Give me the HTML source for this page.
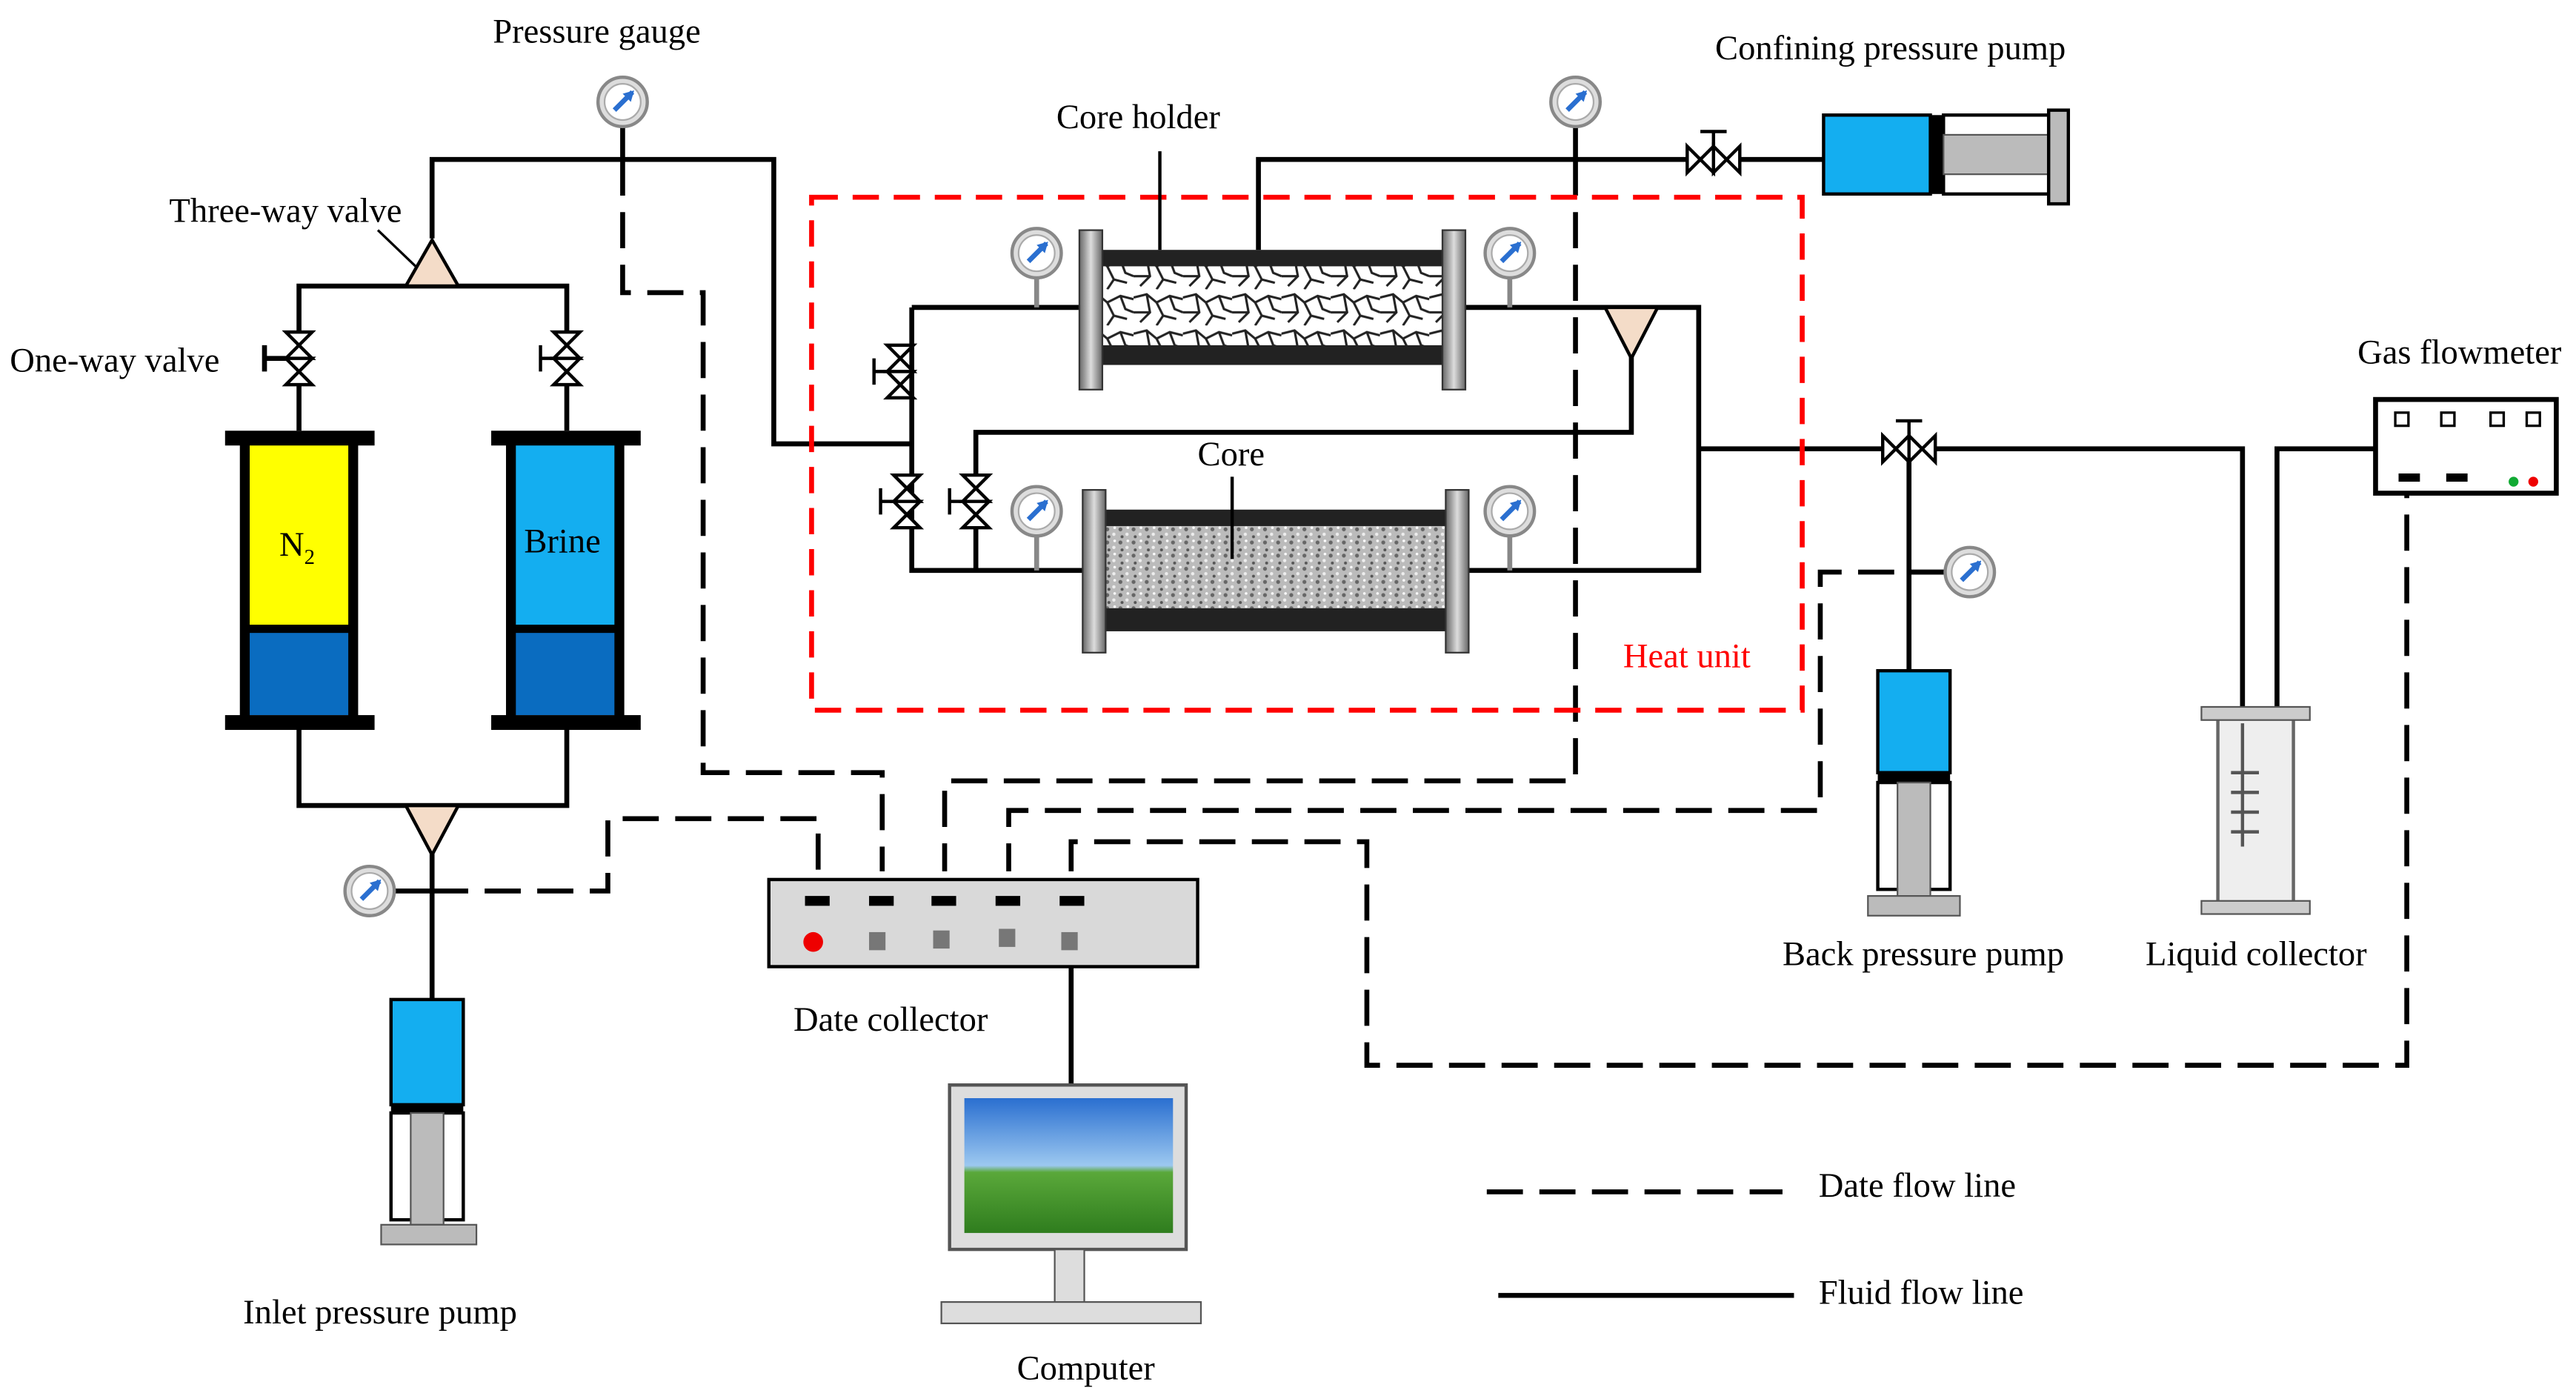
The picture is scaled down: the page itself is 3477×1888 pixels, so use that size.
<!DOCTYPE html>
<html><head><meta charset="utf-8"><style>
html,body{margin:0;padding:0;background:#fff}
svg{display:block}
text{font-family:"Liberation Serif",serif;font-size:21px;fill:#000}
</style></head><body>
<svg width="3477" height="1888" viewBox="0 0 1568 851" preserveAspectRatio="none" xmlns="http://www.w3.org/2000/svg">
<defs>
<pattern id="frac" width="30" height="22" patternUnits="userSpaceOnUse">
<rect width="30" height="22" fill="#fff"/>
<path d="M0 5 L8 3 L14 8 L22 4 L30 6 M8 3 L10 14 L4 20 M14 8 L18 16 L26 18 M22 4 L25 12 L30 14 M0 14 L10 14 M18 16 L14 22" stroke="#222" stroke-width="1.4" fill="none"/>
</pattern>
<pattern id="grain" width="8" height="8" patternUnits="userSpaceOnUse">
<rect width="8" height="8" fill="#bbb"/>
<circle cx="2" cy="2" r="1.2" fill="#666"/><circle cx="6" cy="5" r="1" fill="#eee"/><circle cx="3" cy="6.5" r="0.9" fill="#555"/><circle cx="6.5" cy="1" r="0.8" fill="#fff"/>
</pattern>
<linearGradient id="sky" x1="0" y1="0" x2="0" y2="1"><stop offset="0" stop-color="#2a6fd0"/><stop offset="0.5" stop-color="#9cc8f0"/><stop offset="0.55" stop-color="#5aa83a"/><stop offset="1" stop-color="#2f7d1e"/></linearGradient>
<linearGradient id="flange" x1="0" y1="0" x2="1" y2="0"><stop offset="0" stop-color="#666"/><stop offset="0.5" stop-color="#ddd"/><stop offset="1" stop-color="#666"/></linearGradient>
<g id="gauge"><circle r="15" fill="#ddd" stroke="#888" stroke-width="2"/><circle r="11" fill="#fff" stroke="#aaa"/><path d="M-5 5 L6 -6" stroke="#2a6fd0" stroke-width="3"/><path d="M7 -7 L0 -5 L5 0Z" fill="#2a6fd0"/></g>
<g id="vvalve"><path d="M-8 -16 L8 -16 L-8 0 L8 0Z M-8 16 L8 16 L-8 0 L8 0Z" fill="#fff" stroke="#000" stroke-width="2"/></g>
<g id="hvalve"><path d="M-16 -8 L-16 8 L0 -8 L0 8Z M16 -8 L16 8 L0 -8 L0 8Z" fill="#fff" stroke="#000" stroke-width="2"/></g>
</defs>

<g stroke="#000" stroke-width="3" fill="none">
<path d="M263 145 V97 H471 V270 H555"/>
<path d="M182 218 V174 H345 V218"/>
<path d="M182 218 V262 M345 218 V262"/>
<path d="M182 443 V490 H345 V443"/>
<path d="M263 505 V608"/>
<path d="M555 187 H657 M555 187 V347 H659"/>
<path d="M892 187 H1034 V347 H894"/>
<path d="M993 205 V263 H594 V347"/>
<path d="M1034 273 H1365 V430"/>
<path d="M1162 273 V408"/>
<path d="M766 152 V97 H1110"/>
<path d="M1386 430 V273 H1446"/>
<path d="M652 588 V660"/>
<path d="M379 77 V97 M959 77 V97"/>
<path d="M161 210 V226 M161 218 H174"/>
<path d="M240 542 H263"/>
<path d="M1162 348 H1185"/>
</g>
<g stroke="#000" stroke-width="3" fill="none" stroke-dasharray="22,10">
<path d="M379 97 V178 H428 V470 H537 V530"/>
<path d="M959 97 V475 H575 V530"/>
<path d="M1185 348 H1108 V493 H614 V530"/>
<path d="M263 542 H370 V498 H498 V530"/>
<path d="M652 530 V512 H832 V648 H1465 V300"/>
<path d="M905 725 H1085"/>
</g>
<path d="M912 788 H1092" stroke="#000" stroke-width="3"/>

<rect x="494" y="120" width="603" height="312" fill="none" stroke="#f00" stroke-width="3" stroke-dasharray="16,9"/>
<text x="988" y="406" style="fill:#f00">Heat unit</text>

<g fill="#f4dcc8" stroke="#000" stroke-width="2">
<path d="M247 174 L279 174 L263 146Z"/>
<path d="M247 490 L279 490 L263 520Z"/>
<path d="M977 187 L1009 187 L993 218Z"/>
</g>

<use href="#vvalve" x="182" y="218"/>
<use href="#vvalve" x="345" y="218"/>
<use href="#vvalve" x="548" y="226"/>
<use href="#vvalve" x="552" y="305"/>
<use href="#vvalve" x="594" y="305"/>
<use href="#hvalve" x="1043" y="97"/>
<use href="#hvalve" x="1162" y="273"/>
<path d="M532 218 V234 M532 226 H540 M536 297 V313 M536 305 H544 M578 297 V313 M578 305 H586 M1035 80 H1051 M1043 80 V89 M1154 256 H1170 M1162 256 V265 M329 210 V226 M329 218 H337" stroke="#000" stroke-width="2"/>

<rect x="148" y="270" width="67" height="113" fill="#ffff00"/>
<rect x="148" y="383" width="67" height="52" fill="#0a6cc0"/>
<rect x="146" y="268" width="6" height="170" fill="#000"/><rect x="212" y="268" width="6" height="170" fill="#000"/>
<rect x="137" y="262" width="91" height="9" fill="#000"/><rect x="137" y="435" width="91" height="9" fill="#000"/>
<rect x="150" y="380" width="63" height="5" fill="#000"/>
<text x="170" y="338">N<tspan font-size="13" dy="5">2</tspan></text>
<rect x="310" y="270" width="67" height="113" fill="#14aef0"/>
<rect x="310" y="383" width="67" height="52" fill="#0a6cc0"/>
<rect x="308" y="268" width="6" height="170" fill="#000"/><rect x="374" y="268" width="6" height="170" fill="#000"/>
<rect x="299" y="262" width="91" height="9" fill="#000"/><rect x="299" y="435" width="91" height="9" fill="#000"/>
<rect x="312" y="380" width="63" height="5" fill="#000"/>
<text x="319" y="336">Brine</text>

<rect x="671" y="152" width="207" height="70" fill="#222"/>
<rect x="671" y="162" width="207" height="48" fill="url(#frac)"/>
<rect x="657" y="140" width="14" height="97" fill="url(#flange)" stroke="#333"/>
<rect x="878" y="140" width="14" height="97" fill="url(#flange)" stroke="#333"/>
<rect x="673" y="310" width="207" height="74" fill="#222"/>
<rect x="673" y="320" width="207" height="50" fill="url(#grain)"/>
<rect x="659" y="298" width="14" height="99" fill="url(#flange)" stroke="#333"/>
<rect x="880" y="298" width="14" height="99" fill="url(#flange)" stroke="#333"/>
<path d="M706 92 V152 M750 290 V340" stroke="#000" stroke-width="2"/>

<path d="M631 169 V187 M919 169 V187 M631 326 V347 M919 326 V347" stroke="#888" stroke-width="3"/>
<use href="#gauge" x="379" y="62"/>
<use href="#gauge" x="959" y="62"/>
<use href="#gauge" x="631" y="154"/>
<use href="#gauge" x="919" y="154"/>
<use href="#gauge" x="631" y="311"/>
<use href="#gauge" x="919" y="311"/>
<use href="#gauge" x="1199" y="348"/>
<use href="#gauge" x="225" y="542"/>

<rect x="1110" y="70" width="65" height="48" fill="#14aef0" stroke="#000" stroke-width="2"/>
<rect x="1175" y="70" width="8" height="48" fill="#000"/>
<rect x="1183" y="70" width="64" height="48" fill="#fff" stroke="#000" stroke-width="2"/>
<rect x="1183" y="82" width="64" height="24" fill="#bbb" stroke="#555"/>
<rect x="1247" y="67" width="12" height="57" fill="#bbb" stroke="#000" stroke-width="2"/>

<rect x="238" y="608" width="44" height="64" fill="#14aef0" stroke="#000" stroke-width="2"/>
<rect x="238" y="672" width="44" height="5" fill="#000"/>
<rect x="238" y="677" width="44" height="65" fill="#fff" stroke="#000" stroke-width="2"/>
<rect x="250" y="677" width="20" height="68" fill="#bbb" stroke="#555"/>
<rect x="232" y="745" width="58" height="12" fill="#bbb" stroke="#555"/>
<rect x="1143" y="408" width="44" height="62" fill="#14aef0" stroke="#000" stroke-width="2"/>
<rect x="1143" y="470" width="44" height="6" fill="#000"/>
<rect x="1143" y="476" width="44" height="65" fill="#fff" stroke="#000" stroke-width="2"/>
<rect x="1155" y="476" width="20" height="69" fill="#bbb" stroke="#555"/>
<rect x="1137" y="545" width="56" height="12" fill="#bbb" stroke="#555"/>

<rect x="1350" y="437" width="46" height="112" fill="#eee" stroke="#666" stroke-width="2"/>
<rect x="1340" y="430" width="66" height="8" fill="#ccc" stroke="#555"/>
<rect x="1340" y="548" width="66" height="8" fill="#ccc" stroke="#555"/>
<path d="M1365 440 V515 M1358 470 H1375 M1358 482 H1375 M1358 494 H1375 M1358 506 H1375" stroke="#555" stroke-width="2"/>

<rect x="1446" y="243" width="110" height="57" fill="#fff" stroke="#000" stroke-width="3"/>
<rect x="1458" y="251" width="8" height="8" fill="#fff" stroke="#000" stroke-width="1.5"/>
<rect x="1486" y="251" width="8" height="8" fill="#fff" stroke="#000" stroke-width="1.5"/>
<rect x="1516" y="251" width="8" height="8" fill="#fff" stroke="#000" stroke-width="1.5"/>
<rect x="1538" y="251" width="8" height="8" fill="#fff" stroke="#000" stroke-width="1.5"/>
<rect x="1460" y="288" width="13" height="5" fill="#000"/><rect x="1489" y="288" width="13" height="5" fill="#000"/>
<circle cx="1530" cy="293" r="3" fill="#1a3"/><circle cx="1542" cy="293" r="3" fill="#e00"/>

<rect x="468" y="535" width="261" height="53" fill="#d9d9d9" stroke="#000" stroke-width="2"/>
<g fill="#000"><rect x="490" y="545" width="15" height="6"/><rect x="529" y="545" width="15" height="6"/><rect x="567" y="545" width="15" height="6"/><rect x="606" y="545" width="15" height="6"/><rect x="645" y="545" width="15" height="6"/></g>
<circle cx="495" cy="573" r="6" fill="#e00"/>
<g fill="#777"><rect x="529" y="567" width="10" height="11"/><rect x="568" y="566" width="10" height="11"/><rect x="608" y="565" width="10" height="11"/><rect x="646" y="567" width="10" height="11"/></g>

<rect x="578" y="660" width="144" height="100" fill="#ddd" stroke="#555" stroke-width="2"/>
<rect x="587" y="668" width="127" height="82" fill="url(#sky)"/>
<rect x="642" y="760" width="18" height="32" fill="#ddd" stroke="#555"/>
<rect x="573" y="792" width="158" height="13" fill="#ddd" stroke="#555"/>

<text x="300" y="26">Pressure gauge</text>
<text x="1044" y="36">Confining pressure pump</text>
<text x="643" y="78">Core holder</text>
<text x="103" y="135">Three-way valve</text>
<path d="M230 140 L253 162" stroke="#000" stroke-width="1.5"/>
<text x="6" y="226">One-way valve</text>
<text x="729" y="283">Core</text>
<text x="1435" y="221">Gas flowmeter</text>
<text x="1085" y="587">Back pressure pump</text>
<text x="1306" y="587">Liquid collector</text>
<text x="483" y="627">Date collector</text>
<text x="1107" y="728">Date flow line</text>
<text x="1107" y="793">Fluid flow line</text>
<text x="148" y="805">Inlet pressure pump</text>
<text x="619" y="839">Computer</text>
</svg>
</body></html>
